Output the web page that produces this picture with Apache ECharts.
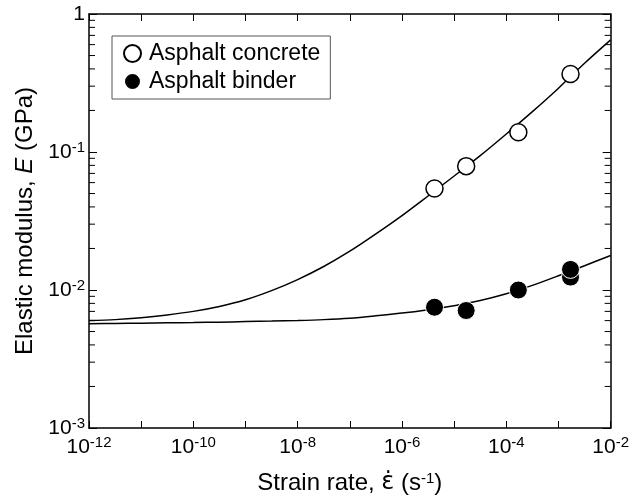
<!DOCTYPE html>
<html><head><meta charset="utf-8">
<script src="https://cdn.jsdelivr.net/npm/echarts@6/dist/echarts.min.js"></script>
<style>html,body{margin:0;padding:0;background:#fff}#c{width:632px;height:500px}</style>
</head><body><div id="c"></div>
<script>
// Measured data points
const concreteRate = [4.2e-6, 1.7e-5, 1.7e-4, 1.7e-3];
const concreteE    = [0.0544, 0.079, 0.139, 0.367];
const binderRate   = [4.2e-6, 1.7e-5, 1.7e-4, 1.7e-3, 1.7e-3];
const binderE      = [0.0075, 0.0071, 0.0100, 0.0124, 0.0141];
// Fitted curves
const curveRate = [1e-12, 3.16e-12, 1e-11, 3.16e-11, 1e-10, 3.16e-10, 1e-9, 3.16e-9, 1e-8, 3.16e-8,
                   1e-7, 3.16e-7, 1e-6, 3.16e-6, 1e-5, 3.16e-5, 1e-4, 3.16e-4, 1e-3, 3.16e-3, 1e-2];
const concreteFitE = [0.0060, 0.0061, 0.0063, 0.0066, 0.0070, 0.0076, 0.0085, 0.0099, 0.0119, 0.0148,
                      0.0191, 0.0255, 0.0346, 0.048, 0.067, 0.094, 0.135, 0.196, 0.29, 0.44, 0.65];
const binderFitE   = [0.0057, 0.00572, 0.00575, 0.00578, 0.00581, 0.00585, 0.0059, 0.00595, 0.00601, 0.0061,
                      0.00625, 0.0065, 0.0068, 0.0072, 0.0077, 0.0084, 0.0094, 0.0108, 0.0127, 0.0150, 0.0178];
// Axis ranges and minor ticks
const X_MIN = 1e-12, X_MAX = 1e-2, Y_MIN = 1e-3, Y_MAX = 1;
const yMinorTicks = [0.002,0.003,0.004,0.005,0.006,0.007,0.008,0.009,
                     0.02,0.03,0.04,0.05,0.06,0.07,0.08,0.09,
                     0.2,0.3,0.4,0.5,0.6,0.7,0.8,0.9];
const seriesNames = ['Asphalt concrete', 'Asphalt binder'];

const FONT = 'Liberation Sans, Arial, Helvetica, sans-serif';
const pow10Rich = {
  b: {fontSize: 21, fontFamily: FONT, color: '#000', lineHeight: 24},
  s: {fontSize: 15, fontFamily: FONT, color: '#000', verticalAlign: 'top', lineHeight: 13}
};
function powLabel(v, skipOdd) {
  const e = Math.round(Math.log10(v));
  if (skipOdd && Math.abs(e) % 2 === 1) return '';
  if (e === 0) return '{b|1}';
  return '{b|10}{s|' + e + '}';
}
function zip(a, b) { return a.map((x, i) => [x, b[i]]); }

const chart = echarts.init(document.getElementById('c'), null, {renderer: 'canvas'});
const tickStyle = {color: '#000', width: 1};
const lineStyle = {color: '#000', width: 1.5};
chart.setOption({
  animation: false,
  backgroundColor: '#fff',
  textStyle: {fontFamily: FONT, color: '#000'},
  grid: {left: 89, right: 18, top: 14, bottom: 66, containLabel: false},
  legend: {
    data: seriesNames, orient: 'vertical', left: 112, top: 36,
    itemWidth: 17, itemHeight: 17, itemGap: 5,
    padding: [6, 10, 6, 11], borderColor: '#555', borderWidth: 1,
    textStyle: {fontSize: 23, fontFamily: FONT, color: '#000', lineHeight: 17, padding: [0, 0, 0, 3]}
  },
  xAxis: [{
    type: 'log', logBase: 10, min: X_MIN, max: X_MAX, splitNumber: 10,
    axisLine: {show: true, lineStyle: lineStyle},
    axisTick: {show: true, inside: true, length: 7, lineStyle: tickStyle},
    splitLine: {show: false},
    axisLabel: {margin: 7, formatter: v => powLabel(v, true), rich: pow10Rich},
    name: 'Strain rate, {e|ε̇} (s{s|-1})', nameLocation: 'middle', nameGap: 43,
    nameTextStyle: {fontSize: 24, fontFamily: FONT, color: '#000',
      rich: {e: {fontSize: 24, fontFamily: 'DejaVu Sans'}, s: {fontSize: 15, fontFamily: FONT, verticalAlign: 'top', lineHeight: 12}}}
  }, {
    type: 'log', logBase: 10, min: X_MIN, max: X_MAX, splitNumber: 10, position: 'top',
    axisLine: {show: true, lineStyle: lineStyle},
    axisTick: {show: true, inside: true, length: 7, lineStyle: tickStyle},
    splitLine: {show: false}, axisLabel: {show: false}
  }],
  yAxis: [{
    type: 'log', logBase: 10, min: Y_MIN, max: Y_MAX, splitNumber: 3,
    axisLine: {show: true, lineStyle: lineStyle},
    axisTick: {show: true, inside: true, length: 8, lineStyle: tickStyle},
    splitLine: {show: false},
    axisLabel: {margin: 4, formatter: v => powLabel(v, false), rich: pow10Rich},
    name: 'Elastic modulus, {i|E} (GPa)', nameLocation: 'middle', nameGap: 50, nameRotate: 90,
    nameTextStyle: {fontSize: 24, fontFamily: FONT, color: '#000',
      rich: {i: {fontSize: 24, fontFamily: FONT, fontStyle: 'italic'}}}
  }, {
    type: 'log', logBase: 10, min: Y_MIN, max: Y_MAX, splitNumber: 3, position: 'right',
    axisLine: {show: true, lineStyle: lineStyle},
    axisTick: {show: true, inside: true, length: 8, lineStyle: tickStyle},
    splitLine: {show: false}, axisLabel: {show: false}
  }],
  series: [
    {
      type: 'custom', silent: true, z: 5, xAxisIndex: 0, yAxisIndex: 0,
      data: yMinorTicks.map(v => [X_MIN, v]),
      renderItem: function (params, api) {
        const v = api.value(1);
        const pL = api.coord([X_MIN, v]);
        const pR = api.coord([X_MAX, v]);
        return {type: 'group', children: [
          {type: 'line', shape: {x1: pL[0], y1: pL[1], x2: pL[0] + 6, y2: pL[1]}, style: {stroke: '#000', lineWidth: 1}},
          {type: 'line', shape: {x1: pR[0], y1: pR[1], x2: pR[0] - 6, y2: pR[1]}, style: {stroke: '#000', lineWidth: 1}}
        ]};
      }
    },
    {
      name: 'concrete fit', type: 'line', data: zip(curveRate, concreteFitE),
      showSymbol: false, smooth: 0.3, lineStyle: {color: '#000', width: 1.5}, z: 3, silent: true
    },
    {
      name: 'binder fit', type: 'line', data: zip(curveRate, binderFitE),
      showSymbol: false, smooth: 0.3, lineStyle: {color: '#000', width: 1.5}, z: 3, silent: true
    },
    {
      name: seriesNames[0], type: 'scatter', data: zip(concreteRate, concreteE),
      symbol: 'circle', symbolSize: 17, z: 10,
      itemStyle: {color: '#fff', borderColor: '#000', borderWidth: 1.5, opacity: 1}
    },
    {
      name: seriesNames[1], type: 'scatter', data: zip(binderRate, binderE),
      symbol: 'circle', symbolSize: 18, z: 10,
      itemStyle: {color: '#000', borderColor: '#fff', borderWidth: 1, opacity: 1}
    }
  ]
});
</script>
</body></html>
